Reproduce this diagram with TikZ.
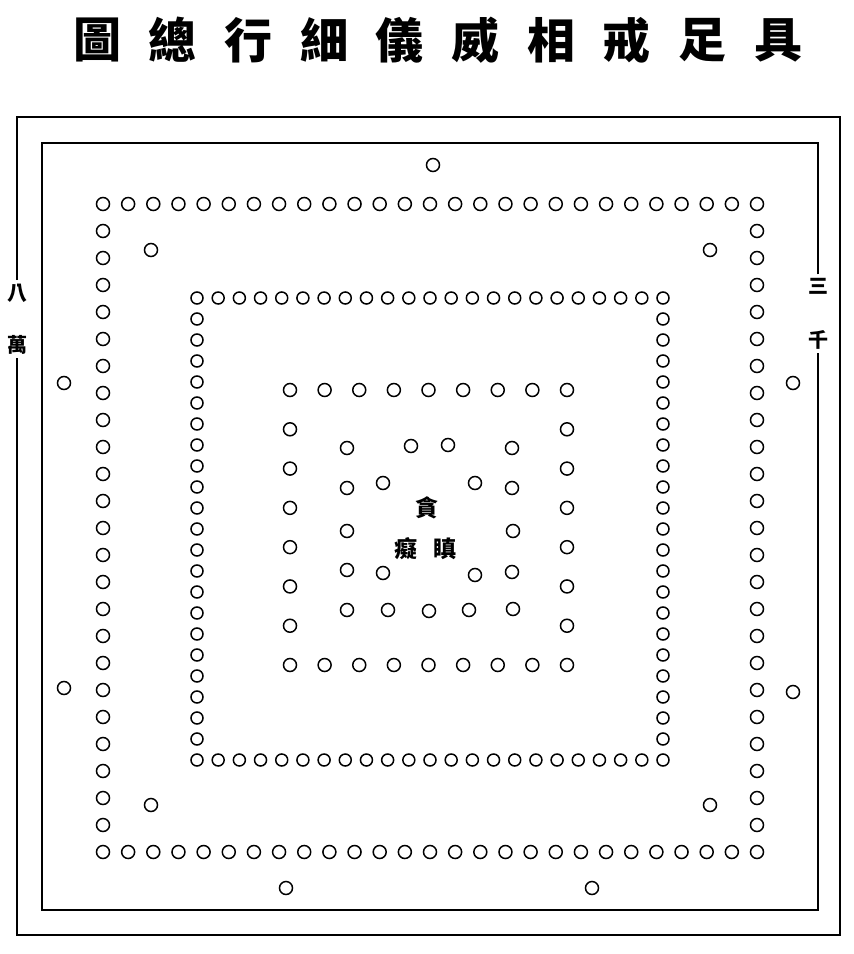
\documentclass[tikz,border=0pt]{standalone}
\usepackage{fontspec}
\newfontfamily\cjk{Noto Sans CJK TC}
\usetikzlibrary{positioning}
\tikzset{
  every picture/.append style={line width=1.4pt},
}

\begin{document}
\begin{tikzpicture}[
  x=1pt, y=-1pt,
  seat/.style={draw=black, line width=1.5pt},
  frameline/.style={draw=black, line width=1.3pt, line join=miter},
  titlechar/.style={font=\cjk\bfseries\fontsize{48}{48}\selectfont, inner sep=0pt},
  sidechar/.style={font=\cjk\bfseries\fontsize{20}{20}\selectfont, inner sep=3pt},
  centerchar/.style={font=\cjk\bfseries\fontsize{23}{23}\selectfont, inner sep=0pt}
]
\useasboundingbox (0,0) rectangle (854,954);

% --- Title (printed left to right) ---
\node[titlechar] (t1) at (97,40) {圖};
\node[titlechar, right=26.3pt of t1] (t2) {總};
\node[titlechar, right=26.3pt of t2] (t3) {行};
\node[titlechar, right=26.3pt of t3] (t4) {細};
\node[titlechar, right=26.3pt of t4] (t5) {儀};
\node[titlechar, right=26.3pt of t5] (t6) {威};
\node[titlechar, right=26.3pt of t6] (t7) {相};
\node[titlechar, right=26.3pt of t7] (t8) {戒};
\node[titlechar, right=26.3pt of t8] (t9) {足};
\node[titlechar, right=26.3pt of t9] (t10) {具};

% --- Frame corners ---
\coordinate (oNW) at (17,117);
\coordinate (oNE) at (840,117);
\coordinate (oSE) at (840,935);
\coordinate (oSW) at (17,935);
\coordinate (iNW) at (42,143);
\coordinate (iNE) at (818,143);
\coordinate (iSE) at (818,910);
\coordinate (iSW) at (42,910);

% --- Side labels sitting in the frame lines ---
\node[sidechar] (ba) at (17,293) {八};
\node[sidechar] (wan) at (17,345) {萬};
\node[sidechar] (san) at (818,286) {三};
\node[sidechar] (qian) at (818,340) {千};

\draw[frameline] (ba.north) -- (oNW) -- (oNE) -- (oSE) -- (oSW) -- (wan.south);
\draw[frameline] (san.north) -- (iNE) -- (iNW) -- (iSW) -- (iSE) -- (qian.south);

% --- Outer ring: 27 across, 25 down ---
\foreach \i in {0,...,26} {
  \draw[seat] (103+\i*25.154,204) circle (6.5pt);
  \draw[seat] (103+\i*25.154,852) circle (6.5pt);
}
\foreach \j in {1,...,23} {
  \draw[seat] (103,204+\j*27) circle (6.5pt);
  \draw[seat] (757,204+\j*27) circle (6.5pt);
}

% --- Single seats round the outer ring ---
\foreach \p in {(433,165),(151,250),(710,250),(64,383),(793,383),
                (64,688),(793,692),(151,805),(710,805),(286,888),(592,888)}
  \draw[seat] \p circle (6.5pt);

% --- Middle ring: 23 a side ---
\foreach \i in {0,...,22} {
  \draw[seat] (197+\i*21.182,298) circle (6pt);
  \draw[seat] (197+\i*21.182,760) circle (6pt);
}
\foreach \j in {1,...,21} {
  \draw[seat] (197,298+\j*21) circle (6pt);
  \draw[seat] (663,298+\j*21) circle (6pt);
}

% --- Inner ring: 9 across, 8 down ---
\foreach \i in {0,...,8} {
  \draw[seat] (290+\i*34.625,390) circle (6.5pt);
  \draw[seat] (290+\i*34.625,665) circle (6.5pt);
}
\foreach \j in {1,...,6} {
  \draw[seat] (290,390+\j*39.29) circle (6.5pt);
  \draw[seat] (567,390+\j*39.29) circle (6.5pt);
}

% --- Innermost seats ---
\foreach \p in {(347,448),(411,446),(448,445),(512,448),
                (347,488),(383,483),(475,483),(512,488),
                (347,531),(513,531),
                (347,570),(383,573),(475,575),(512,572),
                (347,610),(388,610),(429,611),(469,610),(513,609)}
  \draw[seat] \p circle (6.5pt);

% --- Centre ---
\node[centerchar] (tan) at (427,508) {貪};
\node[centerchar] (chi) at (406,549) {癡};
\node[centerchar] (chen) at (445,549) {瞋};

\end{tikzpicture}
\end{document}
